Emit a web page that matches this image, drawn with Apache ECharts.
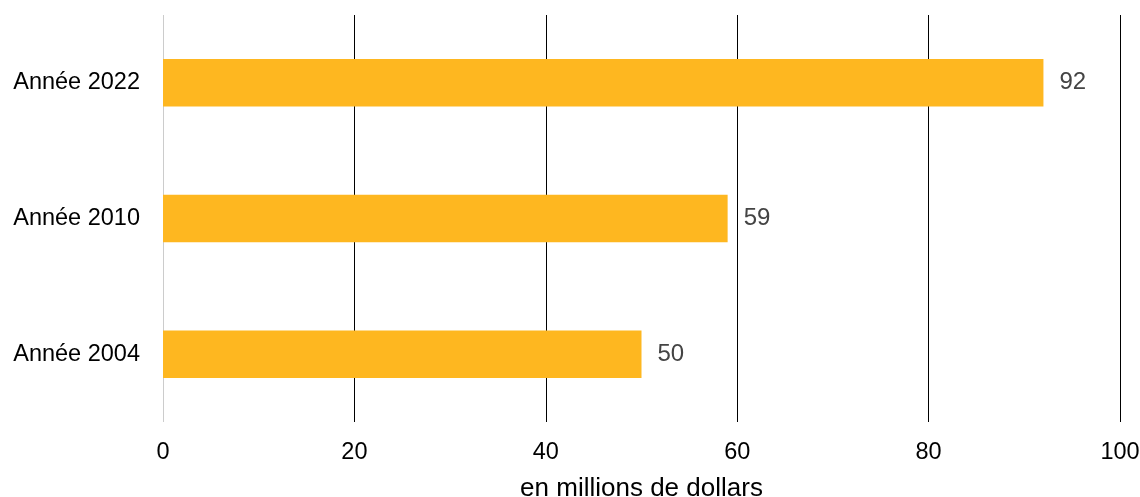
<!DOCTYPE html>
<html>
<head>
<meta charset="utf-8">
<script src="https://cdn.jsdelivr.net/npm/echarts@6/dist/echarts.min.js"></script>
<style>
  html, body { margin: 0; padding: 0; background: #fff; }
  #chart { width: 1140px; height: 497px; }
</style>
</head>
<body>
<div id="chart"></div>
<script>
// Categories listed bottom-to-top (ECharts draws category axis upward)
const categories = ['Année 2004', 'Année 2010', 'Année 2022'];
const values = [50, 59, 92];
const xTicks = [0, 20, 40, 60, 80, 100];
const axisTitle = 'en millions de dollars';

const chart = echarts.init(document.getElementById('chart'), null, { renderer: 'canvas' });

chart.setOption({
  animation: false,
  textStyle: { fontFamily: 'Liberation Sans, Arial, sans-serif' },
  grid: {
    left: 163, right: 20, top: 15, bottom: 75,
    containLabel: false,
    outerBoundsMode: 'none'
  },
  xAxis: {
    type: 'value',
    min: xTicks[0],
    max: xTicks[xTicks.length - 1],
    interval: xTicks[1] - xTicks[0],
    name: axisTitle,
    nameLocation: 'middle',
    nameGap: 54,
    nameTextStyle: { fontSize: 26, color: '#000' },
    axisLine: { show: false },
    axisTick: { show: false },
    axisLabel: { fontSize: 23.5, color: '#000', margin: 19 },
    splitLine: {
      show: true,
      lineStyle: {
        color: ['#cccccc', '#000', '#000', '#000', '#000', '#000'],
        width: 1
      }
    }
  },
  yAxis: {
    type: 'category',
    data: categories,
    axisLine: { show: false },
    axisTick: { show: false },
    axisLabel: { fontSize: 23.5, color: '#000', margin: 23 }
  },
  series: [{
    type: 'bar',
    data: values,
    barWidth: '35%',
    itemStyle: { color: '#FEB720' },
    label: {
      show: true,
      position: 'right',
      distance: 16,
      fontSize: 24,
      color: '#444'
    }
  }]
});
</script>
</body>
</html>
